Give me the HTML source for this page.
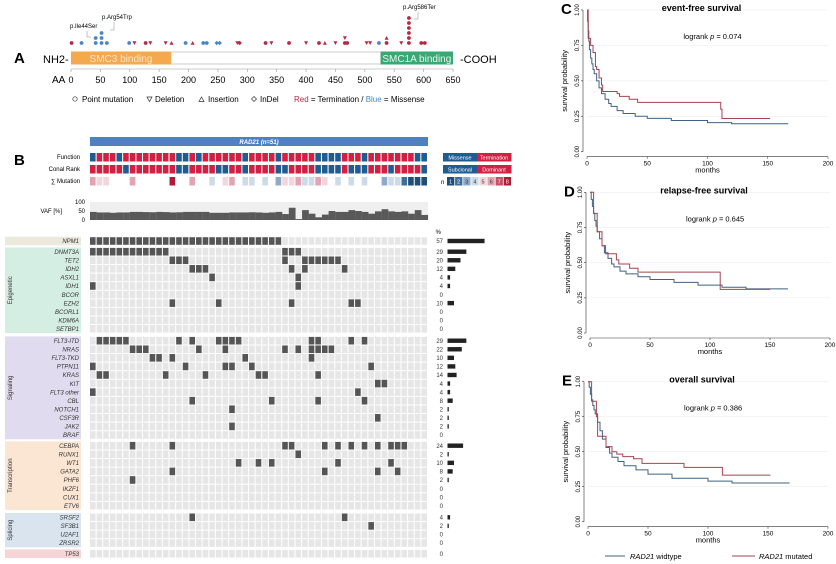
<!DOCTYPE html>
<html><head><meta charset="utf-8"><style>
body{margin:0;background:#fff}
svg{display:block;font-family:"Liberation Sans",sans-serif}
</style></head><body>
<svg id="s" width="836" height="564" viewBox="0 0 836 564"></svg>
<script>
// ---------- Panel A data ----------
const mutAA=[1,18,42,42,52,52,52,61,99,108,127,135,161,171,195,207,225,231,248,253,283,287,331,341,371,400,422,432,450,466,466,470,503,509,524,537,537,562,575,575,575,575,575,575,596,602];
const mutLevel=[0,0,0,1,0,1,2,0,0,0,0,0,0,0,0,0,0,0,0,0,0,0,0,0,0,0,0,0,0,0,1,0,0,0,0,0,1,0,0,1,2,3,4,5,0,0];
const mutType=["c","c","c","c","c","c","c","c","c","d","c","d","d","i","c","i","c","c","n","n","d","n","c","d","c","d","c","i","d","c","d","c","d","d","c","c","i","d","c","c","c","c","c","c","c","c"];
const mutColor=["r","b","b","b","b","b","b","b","b","r","r","r","r","r","b","r","b","b","b","b","r","r","r","r","r","r","r","r","r","r","r","r","r","r","b","r","r","r","r","r","r","r","r","r","r","r"];
const aaTicks=[0,50,100,150,200,250,300,350,400,450,500,550,600,650];
// ---------- Panel B data ----------
const genes=["NPM1","DNMT3A","TET2","IDH2","ASXL1","IDH1","BCOR","EZH2","BCORL1","KDM6A","SETBP1","FLT3-ITD","NRAS","FLT3-TKD","PTPN11","KRAS","KIT","FLT3 other","CBL","NOTCH1","CSF3R","JAK2","BRAF","CEBPA","RUNX1","WT1","GATA2","PHF6","IKZF1","CUX1","ETV6","SRSF2","SF3B1","U2AF1","ZRSR2","TP53"];
const geneGroup=[0,1,1,1,1,1,1,1,1,1,1,2,2,2,2,2,2,2,2,2,2,2,2,3,3,3,3,3,3,3,3,4,4,4,4,5];
const geneMut=[
[0,1,2,3,4,5,6,7,8,9,10,11,12,13,14,15,16,17,18,19,20,21,22,23,24,25,26,27,28],
[0,1,2,3,4,5,6,7,8,9,10,11,29,30,31],
[12,13,14,29,32,33,34,35,36,37],
[15,16,17,30,32,38],
[18,31],[0,31],[],[12,19,30,39,40],[],[],[],
[1,2,3,4,5,13,15,19,20,21,22,33,34,39,41],
[6,7,8,16,20,29,31,33,34,35,36],
[9,10,12,23,33],
[0,14,20,21,24,42],
[1,2,11,17,25,26,34],
[43,44],[0,40],[15,27,34,41],[21],[43],[21],[],
[6,12,29,30,35,37,39,41,43,45,46,47],
[31],[22,25,27,37,45],[12,35,43,46],[6],[],[],[],
[15,38],[42],[],[],[]];
const genePct=[57,29,20,12,4,4,0,10,0,0,0,29,22,10,12,14,4,4,8,2,2,2,0,24,2,10,8,2,0,0,0,4,2,0,0,0];
const funcMiss=[0,4,13,14,16,23,28,34,35,36,37,41,49,50];
const clonalSub=[5,13,14,19,20,23,28,29,34,35,36,37,39,40,41,45,50];
const sumCols=[0,1,2,6,12,15,18,20,21,23,24,26,28,29,30,31,32,33,34,35,37,39,41,44,45,46,47,48,49,50];
const sumVals=[6,5,5,6,8,6,4,5,6,4,4,4,3,5,5,6,4,4,6,5,4,4,4,3,4,4,2,1,1,1];
const vaf=[45,42,42,40,42,42,45,45,44,43,45,44,42,43,45,45,45,45,40,40,40,42,42,42,43,42,40,42,45,33,68,5,55,35,15,30,50,45,45,55,50,45,35,48,60,48,45,48,35,55,28,20,25,30].slice(0,51);
// ---------- KM data ----------
const efsWT=[[0,1],[0.5,0.92],[1,0.85],[1.5,0.78],[2,0.72],[3,0.66],[4,0.62],[5,0.58],[6,0.55],[8,0.5],[10,0.45],[12,0.41],[15,0.37],[18,0.34],[20,0.32],[25,0.29],[30,0.27],[40,0.25],[50,0.235],[70,0.22],[100,0.205],[120,0.197],[167,0.197]];
const efsMut=[[0,1],[1,0.8],[3,0.75],[5,0.7],[7,0.6],[8,0.58],[10,0.52],[12,0.47],[13,0.425],[25,0.41],[27,0.39],[35,0.37],[42,0.348],[110,0.348],[111,0.3],[112,0.234],[152,0.234]];
const rfsWT=[[0,1],[1,0.95],[2,0.9],[3,0.85],[4,0.8],[5,0.76],[6,0.72],[8,0.67],[10,0.62],[12,0.57],[15,0.53],[18,0.49],[20,0.47],[25,0.44],[30,0.42],[40,0.4],[50,0.38],[70,0.36],[90,0.34],[110,0.325],[130,0.314],[165,0.314]];
const rfsMut=[[0,1],[3,0.85],[6,0.72],[10,0.62],[13,0.563],[22,0.52],[24,0.49],[33,0.46],[40,0.433],[108,0.433],[108.5,0.31],[150,0.31]];
const osWT=[[0,1],[1,0.96],[2,0.91],[3,0.87],[4,0.83],[5,0.8],[6,0.77],[8,0.71],[10,0.65],[12,0.59],[15,0.53],[18,0.49],[20,0.46],[25,0.43],[30,0.4],[40,0.37],[50,0.34],[70,0.31],[100,0.29],[120,0.276],[168,0.276]];
const osMut=[[0,1],[3,0.86],[7,0.75],[8,0.61],[15,0.536],[20,0.5],[24,0.483],[29,0.465],[38,0.45],[45,0.417],[80,0.388],[112,0.333],[152,0.333]];
const kmXTicks=[0,50,100,150,200];
const kmYTicks=[0,0.25,0.5,0.75,1];

const S=document.getElementById('s');
const NS="http://www.w3.org/2000/svg";
function mk(tag,attrs,parent){const e=document.createElementNS(NS,tag);for(const k in attrs)e.setAttribute(k,attrs[k]);(parent||S).appendChild(e);return e;}
function tx(str,attrs,parent){const e=mk('text',attrs,parent);e.textContent=str;return e;}

// ===== Panel A =====
const gA=mk('g',{});


const aaX=a=>71+a*(382/650);
let t=tx('A',{x:14,y:63,'font-size':15,'font-weight':'bold'},gA);

tx('NH2-',{x:43,y:63,'font-size':11},gA);
tx('-COOH',{x:460,y:63,'font-size':11},gA);
let r=mk('rect',{x:aaX(170),y:52,width:aaX(527)-aaX(170),height:12,fill:'#fff',stroke:'#ccc','stroke-width':1},gA);

r=mk('rect',{x:71,y:51.5,width:aaX(170)-71,height:13,fill:'#f5a94f'},gA);

tx('SMC3 binding',{x:(71+aaX(170))/2,y:62,'font-size':10,fill:'#fde8cf','text-anchor':'middle'},gA);
r=mk('rect',{x:aaX(527),y:51.5,width:aaX(650)-aaX(527),height:13,fill:'#3aa874'},gA);

tx('SMC1A binding',{x:(aaX(527)+aaX(650))/2,y:62,'font-size':10,fill:'#e6f5ec','text-anchor':'middle'},gA);
mk('line',{x1:71,x2:aaX(650),y1:69,y2:69,stroke:'#999','stroke-width':0.6},gA);
aaTicks.forEach(v=>{mk('line',{x1:aaX(v),x2:aaX(v),y1:69,y2:72,stroke:'#999','stroke-width':0.6},gA);
 const l=tx(String(v),{x:aaX(v),y:83,'font-size':9,'text-anchor':'middle'},gA);
 });
tx('AA',{x:52,y:83,'font-size':10},gA);
mutAA.forEach((a,i)=>{
 const x=aaX(a),y=43-mutLevel[i]*5,c=mutColor[i]=='r'?'#b52a45':'#4a86c5';
 let m;
 if(mutType[i]=='c')m=mk('circle',{cx:x,cy:y,r:1.9,fill:c},gA);
 else if(mutType[i]=='d')m=mk('path',{d:`M${x-2},${y-1.8}L${x+2},${y-1.8}L${x},${y+2}Z`,fill:c},gA);
 else if(mutType[i]=='i')m=mk('path',{d:`M${x-2},${y+1.8}L${x+2},${y+1.8}L${x},${y-2}Z`,fill:c},gA);
 else m=mk('path',{d:`M${x},${y-2.2}L${x+2.2},${y}L${x},${y+2.2}L${x-2.2},${y}Z`,fill:c},gA);
 
});
tx('p.Ile44Ser',{x:70,y:28,'font-size':6},gA);
mk('path',{d:'M87,31V37H91',fill:'none',stroke:'#888','stroke-width':0.5},gA);
tx('p.Arg54Trp',{x:102,y:19,'font-size':6},gA);
mk('path',{d:'M114,22V30H110',fill:'none',stroke:'#888','stroke-width':0.5},gA);
tx('p.Arg586Ter',{x:403,y:9,'font-size':6},gA);
mk('path',{d:'M418,12V19H414',fill:'none',stroke:'#888','stroke-width':0.5},gA);
// legend A
const lg=mk('g',{},gA);
mk('circle',{cx:75,cy:99,r:2.2,fill:'none',stroke:'#333','stroke-width':0.7},lg);
tx('Point mutation',{x:82,y:102,'font-size':8},lg);
mk('path',{d:'M147,97L152,97L149.5,101.5Z',fill:'none',stroke:'#333','stroke-width':0.7},lg);
tx('Deletion',{x:155,y:102,'font-size':8},lg);
mk('path',{d:'M199,101.5L204,101.5L201.5,97Z',fill:'none',stroke:'#333','stroke-width':0.7},lg);
tx('Insertion',{x:208,y:102,'font-size':8},lg);
mk('path',{d:'M254,96.5L256.5,99L254,101.5L251.5,99Z',fill:'none',stroke:'#333','stroke-width':0.7},lg);
tx('InDel',{x:260,y:102,'font-size':8},lg);
const lt=tx('',{x:294,y:102,'font-size':8},lg);
lt.innerHTML='<tspan fill="#b52a45">Red</tspan> = Termination / <tspan fill="#4a86c5">Blue</tspan> = Missense';

// ===== Panel B =====
const gB=mk('g',{});
t=tx('B',{x:14,y:165,'font-size':15,'font-weight':'bold'},gB);

const colX=i=>90+i*(338/51);const cw=5.6;
r=mk('rect',{x:90,y:137,width:338,height:9,fill:'#4f80c0'},gB);

tx('RAD21 (n=51)',{x:259,y:144,'font-size':6,fill:'#fff','text-anchor':'middle','font-style':'italic','font-weight':'bold'},gB);
const sumColor=['','#1f4e79','#3d6f9e','#8eaac8','#cddbe9','#f3d6dc','#e3a3b0','#c94f68','#b01b3a'];
[['Function',157],['Conal Rank',169],['∑ Mutation',181]].forEach(([n,y])=>tx(n,{x:80,y:y+2,'font-size':6,'text-anchor':'end'},gB));
for(let i=0;i<51;i++){
 let c=mk('rect',{x:colX(i),y:153,width:cw,height:8.5,fill:funcMiss.includes(i)?'#1f5c92':'#d41f45'},gB);
 
 c=mk('rect',{x:colX(i),y:165,width:cw,height:8.5,fill:clonalSub.includes(i)?'#1f5c92':'#d41f45'},gB);
 
}
sumCols.forEach((ci,k)=>{const c=mk('rect',{x:colX(ci),y:177,width:cw,height:8.5,fill:sumColor[sumVals[k]]},gB);
 });
// legends right
[['Missense','#1f5c92',443,153],['Termination','#d41f45',477,153],['Subclonal','#1f5c92',443,165],['Dominant','#d41f45',477,165]].forEach(([n,c,x,y])=>{
 const rr=mk('rect',{x:x,y:y,width:34.5,height:8.5,fill:c},gB);
 tx(n,{x:x+17,y:y+6.3,'font-size':5.5,fill:'#fff','text-anchor':'middle'},gB);});
tx('n',{x:441,y:184,'font-size':6},gB);
for(let k=1;k<=8;k++){const rr=mk('rect',{x:447+(k-1)*8.1,y:177,width:7.3,height:8.5,fill:sumColor[k]},gB);
 
 tx(String(k),{x:447+(k-1)*8.1+3.6,y:183.5,'font-size':5.5,fill:k>=3&&k<=6?'#333':'#fff','text-anchor':'middle'},gB);}
// VAF
r=mk('rect',{x:90,y:202,width:338,height:18,fill:'#efefef'},gB);

tx('VAF [%]',{x:62,y:213,'font-size':6,'text-anchor':'end'},gB);
[[100,202],[50,211],[0,220]].forEach(([v,y])=>tx(String(v),{x:85,y:y+2,'font-size':6,'text-anchor':'end'},gB));
const vY=v=>220-v*0.18;
vaf.forEach((v,i)=>{const b=mk('rect',{x:colX(i),y:vY(v),width:338/51+0.1,height:220-vY(v),fill:'#595959'},gB);
 });
// oncoprint
const groupStart=[241,251.7,340.7,445.7,517.3,553.7];const step=8.57;
const groupNames=['','Epigenetic','Signaling','Transcription','Splicing',''];
const groupFill=['#ebe8dc','#d5eee4','#e0dbee','#fbe5d3','#d9e4ef','#f5d5d6'];
const rowY=[];let prevG=-1,idx=0;
genes.forEach((g,i)=>{const G=geneGroup[i];if(G!=prevG){idx=0;prevG=G;}rowY.push(groupStart[G]+idx*step);idx++;});
for(let G=0;G<6;G++){
 const ys=rowY.filter((y,i)=>geneGroup[i]==G);const top=ys[0]-4.3,bot=ys[ys.length-1]+4.3;
 const band=mk('rect',{x:5,y:top,width:76,height:bot-top,fill:groupFill[G]},gB);
 
 if(groupNames[G]){const cy=(top+bot)/2;tx(groupNames[G],{x:12,y:cy,'font-size':6,'text-anchor':'middle',transform:`rotate(-90 12 ${cy})`,fill:'#333'},gB);}
}
genes.forEach((g,i)=>{
 const y=rowY[i];
 const l=tx(g,{x:79,y:y+2.2,'font-size':6,'font-style':'italic','text-anchor':'end',fill:'#333'},gB);
 
 for(let c=0;c<51;c++){const on=geneMut[i].includes(c);
  const cell=mk('rect',{x:colX(c),y:y-3.8,width:cw,height:7.6,fill:on?'#555':'#e6e6e6'},gB);
  }
 tx(String(genePct[i]),{x:443,y:y+2.2,'font-size':6,'text-anchor':'end',fill:'#333'},gB);
 if(genePct[i]>0){const b=mk('rect',{x:447.5,y:y-2.2,width:genePct[i]*0.65,height:4.4,fill:'#222'},gB);
  }
});
tx('%',{x:441,y:234,'font-size':6,'text-anchor':'end'},gB);

// ===== KM panels =====
function km(cfg){
 const g=mk('g',{});
 const X=v=>cfg.x0+v*(cfg.x200-cfg.x0)/200, Y=v=>cfg.y0-v*(cfg.y0-cfg.y1);
 kmYTicks.forEach(v=>{if(v>0)mk('line',{x1:X(0),x2:X(200),y1:Y(v),y2:Y(v),stroke:'#eee','stroke-width':0.6},g);});
 mk('line',{x1:cfg.x0-4,x2:cfg.x0-4,y1:Y(1),y2:Y(0),stroke:'#333','stroke-width':0.6},g);
 mk('line',{x1:X(0),x2:X(200),y1:Y(0)+5,y2:Y(0)+5,stroke:'#333','stroke-width':0.6},g);
 kmYTicks.forEach(v=>{mk('line',{x1:cfg.x0-6,x2:cfg.x0-4,y1:Y(v),y2:Y(v),stroke:'#333','stroke-width':0.6},g);
  const lx=cfg.x0-8;tx(v.toFixed(2),{x:lx,y:Y(v),'font-size':6,'text-anchor':'middle',transform:`rotate(-90 ${lx} ${Y(v)})`},g);});
 kmXTicks.forEach(v=>{mk('line',{x1:X(v),x2:X(v),y1:Y(0)+5,y2:Y(0)+7,stroke:'#333','stroke-width':0.6},g);
  tx(String(v),{x:X(v),y:Y(0)+14,'font-size':6.5,'text-anchor':'middle'},g);});
 tx('months',{x:X(100),y:Y(0)+21,'font-size':7.5,'text-anchor':'middle'},g);
 const ly=(Y(0)+Y(1))/2;tx('survival probability',{x:cfg.x0-20,y:ly,'font-size':7.5,'text-anchor':'middle',transform:`rotate(-90 ${cfg.x0-20} ${ly})`},g);
 tx(cfg.title,{x:X(95),y:cfg.y1+1,'font-size':9,'font-weight':'bold','text-anchor':'middle'},g);
 const ll=tx('',{x:X(80),y:cfg.y1+29,'font-size':7.5},g);ll.innerHTML='logrank <tspan font-style="italic">p</tspan> = '+cfg.p;
 tx(cfg.letter,{x:cfg.x0-26,y:cfg.y1+4,'font-size':15,'font-weight':'bold'},g);
 [[cfg.wt,'#3f6283','curve-wildtype'],[cfg.mut,'#a3444f','curve-mutated']].forEach(([d,c,n])=>{
  let p=`M${X(d[0][0])},${Y(d[0][1])}`;for(let k=1;k<d.length;k++)p+=`H${X(d[k][0])}V${Y(d[k][1])}`;
  const pa=mk('path',{d:p,fill:'none',stroke:c,'stroke-width':1},g);
  });
}
km({name:'event-free-survival-chart',letter:'C',title:'event-free survival',p:'0.074',x0:587,x200:828,y1:10,y0:151.7,wt:efsWT,mut:efsMut});
km({name:'relapse-free-survival-chart',letter:'D',title:'relapse-free survival',p:'0.645',x0:590,x200:830,y1:192.3,y0:333,wt:rfsWT,mut:rfsMut});
km({name:'overall-survival-chart',letter:'E',title:'overall survival',p:'0.386',x0:588,x200:828,y1:381.7,y0:521.7,wt:osWT,mut:osMut});
const kl=mk('g',{});
mk('line',{x1:605,x2:625,y1:556,y2:556,stroke:'#3f6283','stroke-width':1},kl);
tx('',{x:630,y:559,'font-size':7.5},kl).innerHTML='<tspan font-style="italic">RAD21</tspan> widtype';
mk('line',{x1:732,x2:755,y1:556,y2:556,stroke:'#a3444f','stroke-width':1},kl);
tx('',{x:759,y:559,'font-size':7.5},kl).innerHTML='<tspan font-style="italic">RAD21</tspan> mutated';
</script>
</body></html>
